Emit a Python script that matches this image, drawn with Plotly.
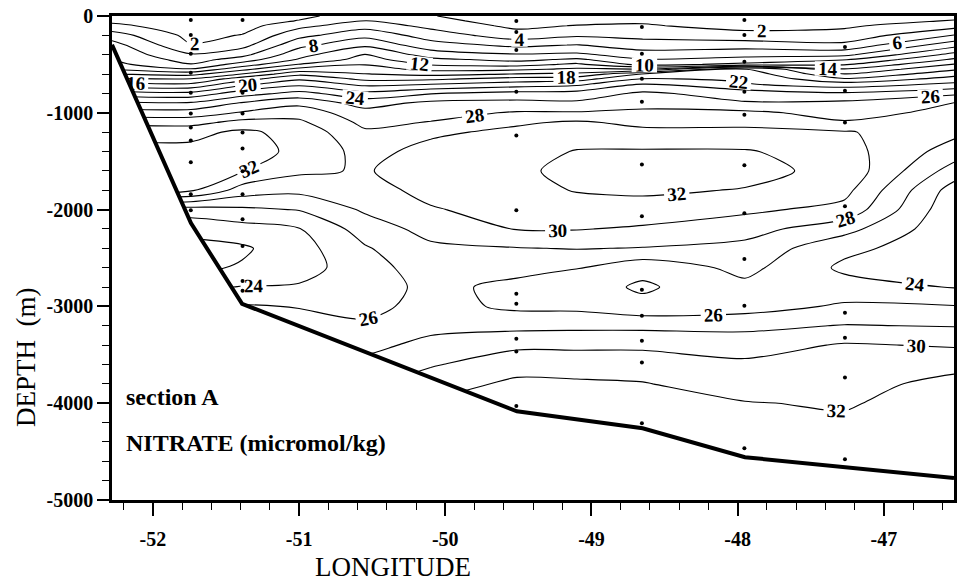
import plotly.graph_objects as go

# ---------------- data ----------------
# grid longitudes (deg) and depths (m) of the nitrate field
lon_grid = [-52.28, -51.74, -51.39, -51.0, -50.55, -50.1, -49.51, -49.1, -48.65, -47.95, -47.27, -46.52]
depth_grid = [0, -50, -100, -200, -300, -400, -450, -500, -550, -600, -650, -700, -800, -900,
              -1000, -1100, -1200, -1400, -1600, -1800, -2000, -2200, -2400, -2600, -2800, -3000,
              -3200, -3400, -3600, -3800, -4000, -4200, -4400, -4600, -4800, -5000]

# nitrate profiles (micromol/kg) at each grid longitude, top to bottom
no3_5228 = [1.0, 1.5, 2.5, 5.0, 6.8, 7.5, 8.0, 8.6, 10.0, 12.1, 14.5, 16.5, 21.0, 24.5, 27.1, 29.5, 31.5, 32.6, 32.8, 32.3,
            25.1, 22.5, 21.5, 21.6, 23.5, 26.1, 27.1, 27.8, 28.5, 29.5, 30.5, 31.5, 32.1, 32.5, 32.5, 32.5]
no3_5174 = [0.5, 0.6, 0.8, 1.4, 2.1, 4.2, 5.1, 6.1, 8.2, 11.3, 14.1, 16.1, 20.6, 24.3, 26.9, 29.3, 31.4, 32.6, 32.8, 32.3,
            25.1, 22.5, 21.5, 21.6, 23.5, 26.1, 27.1, 27.8, 28.5, 29.5, 30.5, 31.5, 32.1, 32.5, 32.5, 32.5]
no3_5139 = [0.6, 0.9, 1.2, 2.1, 3.3, 5.4, 6.9, 8.9, 11.4, 14.1, 17.1, 19.3, 23.1, 26.2, 28.2, 30.7, 32.4, 32.9, 32.1, 29.1,
            25.6, 23.2, 21.7, 22.2, 24.1, 26.2, 27.1, 27.8, 28.5, 29.5, 30.5, 31.5, 32.1, 32.5, 32.5, 32.5]
no3_5100 = [1.5, 2.1, 3.4, 5.4, 7.4, 9.3, 10.2, 12.1, 14.7, 17.5, 19.7, 21.3, 24.7, 27.5, 29.2, 30.4, 31.3, 31.5, 30.4, 28.5,
            26.1, 23.9, 23.2, 23.2, 24.2, 25.9, 26.8, 27.5, 28.5, 29.5, 30.5, 31.5, 32.1, 32.5, 32.5, 32.5]
no3_5055 = [3.1, 4.1, 5.2, 7.4, 9.6, 12.1, 12.8, 13.9, 14.9, 16.1, 17.5, 19.3, 22.6, 25.2, 26.7, 27.5, 28.3, 29.3, 29.8, 29.1,
            28.3, 26.9, 25.8, 25.1, 24.9, 25.4, 26.3, 27.5, 28.5, 29.5, 30.5, 31.5, 32.1, 32.5, 32.5, 32.5]
no3_5010 = [2.1, 2.6, 3.4, 5.1, 6.8, 9.1, 10.5, 11.8, 13.4, 15.4, 17.6, 19.8, 23.9, 26.5, 27.3, 28.1, 29.6, 30.7, 31.2, 30.7,
            29.8, 28.7, 27.6, 27.1, 26.6, 26.7, 27.5, 28.5, 29.8, 31.1, 32.1, 32.6, 32.8, 33.0, 33.0, 33.0]
no3_4951 = [0.8, 1.1, 1.5, 2.9, 5.5, 8.2, 9.4, 11.2, 13.6, 16.1, 18.8, 20.7, 24.7, 26.6, 28.2, 29.7, 30.5, 31.3, 31.6, 31.4,
            30.9, 30.1, 27.9, 26.7, 25.4, 25.6, 27.4, 29.6, 31.2, 32.4, 32.8, 33.0, 33.0, 33.0, 33.0, 33.0]
no3_4910 = [0.6, 1.2, 2.1, 3.7, 6.1, 8.4, 10.4, 12.4, 14.4, 16.5, 19.1, 21.4, 24.8, 26.4, 28.2, 30.3, 31.1, 32.1, 32.6, 32.1,
            31.2, 30.1, 28.1, 26.1, 24.9, 25.5, 27.5, 29.6, 31.1, 32.3, 33.0, 33.2, 33.3, 33.3, 33.3, 33.3]
no3_4865 = [1.3, 1.7, 2.2, 3.5, 4.8, 7.1, 8.1, 9.3, 14.1, 20.1, 22.1, 23.9, 26.4, 27.4, 28.4, 29.5, 30.5, 32.2, 32.8, 32.3,
            31.3, 29.7, 27.9, 24.6, 23.7, 24.6, 27.5, 29.6, 31.1, 32.1, 33.0, 33.3, 33.4, 33.4, 33.4, 33.4]
no3_4795 = [0.6, 0.9, 1.3, 2.7, 5.1, 7.4, 8.7, 10.5, 20.5, 21.3, 21.8, 22.1, 25.1, 26.2, 28.5, 29.7, 30.3, 32.2, 32.6, 31.9,
            30.4, 28.8, 27.4, 26.6, 25.5, 25.1, 27.5, 29.1, 30.4, 31.1, 32.1, 32.6, 33.0, 33.1, 33.1, 33.1]
no3_4727 = [1.0, 1.3, 1.7, 2.7, 4.5, 7.5, 9.8, 11.8, 14.2, 16.1, 18.2, 20.7, 24.3, 26.5, 27.2, 28.2, 30.2, 30.8, 31.4, 30.6,
            29.4, 26.7, 24.5, 23.6, 24.8, 26.3, 28.1, 30.2, 30.9, 31.3, 31.8, 32.3, 32.7, 33.0, 33.1, 33.1]
no3_4652 = [1.5, 2.1, 3.2, 6.1, 9.2, 12.7, 14.3, 16.1, 17.7, 19.3, 20.8, 22.3, 25.6, 28.1, 28.6, 28.8, 28.5, 27.1, 25.1, 23.1,
            22.5, 22.5, 22.8, 23.3, 23.9, 26.1, 27.9, 29.8, 31.4, 32.6, 33.0, 33.2, 33.3, 33.4, 33.5, 33.5]

# bottom topography along the section
bathy_lon = [-52.28, -51.74, -51.39, -49.51, -48.65, -47.95, -46.52]
bathy_depth = [-298, -2140, -2973, -4084, -4259, -4558, -4774]

# sample positions (stations)
st_lon = [-51.741, -51.387, -49.514, -48.655, -47.954, -47.266]
st_depths = [
    [-41, -195, -391, -586, -792, -1008, -1152, -1286, -1512, -1842, -2006],
    [-41, -792, -1008, -1204, -1368, -1605, -1842, -2099, -2377, -2737, -2839],
    [-51, -165, -350, -782, -1235, -2006, -2870, -2973, -3333, -3467, -4030],
    [-113, -391, -648, -885, -1533, -2068, -2829, -3097, -3354, -3580, -4208],
    [-41, -195, -473, -782, -1019, -1543, -2037, -2510, -2994, -4465],
    [-319, -772, -1101, -1965, -3066, -3323, -3735, -4578],
]

x_tickvals = [-52, -51, -50, -49, -48, -47]
x_ticktext = ["-52", "-51", "-50", "-49", "-48", "-47"]
y_tickvals = [0, -1000, -2000, -3000, -4000, -5000]
y_ticktext = ["0", "-1000", "-2000", "-3000", "-4000", "-5000"]

# ---------------- figure ----------------
profiles = [no3_5228, no3_5174, no3_5139, no3_5100, no3_5055, no3_5010,
            no3_4951, no3_4910, no3_4865, no3_4795, no3_4727, no3_4652]
z = [list(row) for row in zip(*profiles)]

SERIF = "Liberation Serif, Times New Roman, serif"

fig = go.Figure()
fig.add_trace(go.Contour(
    x=lon_grid, y=depth_grid, z=z,
    autocontour=False,
    contours=dict(start=2, end=32, size=2, coloring="none", showlabels=True,
                  labelfont=dict(family=SERIF, size=19, color="black", weight="bold")),
    line=dict(color="black", width=1.1, smoothing=0.8),
    showscale=False, hoverinfo="skip",
))

# white mask below the sea floor
fig.add_trace(go.Scatter(
    x=bathy_lon + [bathy_lon[-1], bathy_lon[0]],
    y=bathy_depth + [-5200, -5200],
    fill="toself", fillcolor="white", mode="lines", line=dict(width=0),
    hoverinfo="skip",
))

# station sample dots
dx, dy = [], []
for lon, deps in zip(st_lon, st_depths):
    for d in deps:
        dx.append(lon)
        dy.append(d)
fig.add_trace(go.Scatter(x=dx, y=dy, mode="markers",
                         marker=dict(color="black", size=4), hoverinfo="skip"))

# sea floor
fig.add_trace(go.Scatter(x=bathy_lon, y=bathy_depth, mode="lines",
                         line=dict(color="black", width=4), hoverinfo="skip"))

axis_common = dict(
    showline=True, mirror=True, linewidth=2.5, linecolor="black",
    ticks="outside", tickwidth=1.6, tickcolor="black",
    showgrid=False, zeroline=False,
    tickfont=dict(family=SERIF, size=20, color="black", weight="bold"),
)

fig.update_layout(
    width=962, height=587,
    margin=dict(l=112, r=5, t=14, b=87),
    paper_bgcolor="white", plot_bgcolor="white",
    showlegend=False,
    xaxis=dict(range=[-52.28, -46.52], tickmode="array", tickvals=x_tickvals, ticktext=x_ticktext,
               ticklen=13, ticklabelstandoff=6,
               minor=dict(tickmode="linear", tick0=-52, dtick=0.2, ticks="outside", ticklen=7,
                          tickwidth=1.2, tickcolor="black", showgrid=False),
               **axis_common),
    yaxis=dict(range=[-5000, 0], tickmode="array", tickvals=y_tickvals, ticktext=y_ticktext,
               ticklen=12,
               minor=dict(tickmode="linear", tick0=0, dtick=200, ticks="outside", ticklen=7,
                          tickwidth=1.2, tickcolor="black", showgrid=False),
               **axis_common),
    annotations=[
        dict(text="section A", x=-52.2, y=-3940, xref="x", yref="y", xanchor="left", yanchor="middle",
             showarrow=False, font=dict(family=SERIF, size=24, color="black", weight="bold")),
        dict(text="NITRATE (micromol/kg)", x=-52.2, y=-4414, xref="x", yref="y", xanchor="left",
             yanchor="middle", showarrow=False,
             font=dict(family=SERIF, size=24, color="black", weight="bold")),
        dict(text="DEPTH  (m)", x=-0.103, y=-3530, xref="paper", yref="y", textangle=-90,
             xanchor="center", yanchor="middle", showarrow=False,
             font=dict(family=SERIF, size=27, color="black")),
        dict(text="LONGITUDE", x=-50.36, y=-0.138, xref="x", yref="paper", xanchor="center",
             yanchor="middle", showarrow=False, font=dict(family=SERIF, size=27, color="black")),
    ],
)

fig.write_html("out.html")
